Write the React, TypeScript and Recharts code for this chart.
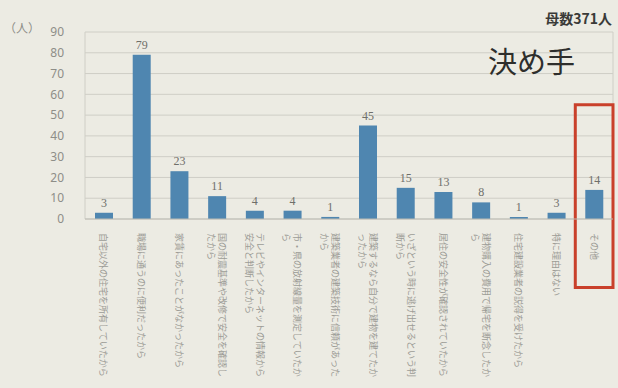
import React from "react";
import {
  BarChart,
  Bar,
  XAxis,
  YAxis,
  CartesianGrid,
  LabelList,
  ReferenceArea,
} from "recharts";

const categories = [
  "自宅以外の住宅を所有していたから",
  "職場に通うのに便利だったから",
  "家賃にあったことがなかったから",
  "国の耐震基準や改修で安全を確認したから",
  "テレビやインターネットの情報から安全と判断したから",
  "市・県の放射線量を測定していたから",
  "建築業者の建築技術に信頼があったから",
  "建築するなら自分で建物を建てたかったから",
  "いざという時に逃げ出せるという判断から",
  "居住の安全性が確認されていたから",
  "建物購入の費用で帰宅を断念したから",
  "住宅建設業者の説得を受けたから",
  "特に理由はない",
  "その他",
];

const counts = [3, 79, 23, 11, 4, 4, 1, 45, 15, 13, 8, 1, 3, 14];

const yTicks = [0, 10, 20, 30, 40, 50, 60, 70, 80, 90];

const unitLabel = "（人）";
const sampleLabel = "母数371人";
const titleLabel = "決め手";
const highlighted = "その他";

const data = categories.map((name, i) => ({ name, value: counts[i] }));

const wrap = (s: string, n: number) => {
  const out: string[] = [];
  for (let i = 0; i < s.length; i += n) out.push(s.slice(i, i + n));
  return out;
};

const CategoryTick = (props: any) => {
  const { x, y, payload } = props;
  const lines = wrap(String(payload.value), 16);
  const lh = 11;
  const first = 3.5 - ((lines.length - 1) * lh) / 2;
  return (
    <g transform={`translate(${x},${y})`}>
      <text
        transform="rotate(90)"
        fontSize={9}
        fill="#9c9c96"
        fontFamily="'Noto Sans CJK JP', sans-serif"
      >
        {lines.map((l, i) => (
          <tspan key={i} x={6} y={first + i * lh}>
            {l}
          </tspan>
        ))}
      </text>
    </g>
  );
};

export default function App() {
  return (
    <div
      style={{
        position: "absolute",
        left: 0,
        top: 0,
        width: 618,
        height: 388,
        background: "#ecebe3",
        overflow: "hidden",
      }}
    >
      <BarChart
        width={618}
        height={388}
        data={data}
        margin={{ top: 32, right: 5, left: 0, bottom: 0 }}
        barCategoryGap={0}
      >
        <CartesianGrid
          stroke="#cfcec6"
          verticalCoordinatesGenerator={({ offset }: any) => [
            offset.left,
            offset.left + offset.width,
          ]}
        />
        <XAxis
          dataKey="name"
          interval={0}
          height={169}
          tickLine={false}
          axisLine={{ stroke: "#bdbcb4" }}
          tick={<CategoryTick />}
        />
        <YAxis
          width={85}
          domain={[0, 90]}
          ticks={yTicks}
          interval={0}
          tickLine={false}
          axisLine={false}
          tickMargin={15}
          tick={{
            fontSize: 12,
            fill: "#8e8e88",
            fontFamily: "'Noto Sans', sans-serif",
          }}
        />
        <Bar
          dataKey="value"
          fill="#4f86b0"
          barSize={18}
          isAnimationActive={false}
        >
          <LabelList
            dataKey="value"
            position="top"
            offset={6}
            fill="#6f6f6a"
            fontSize={12}
            fontFamily="'Liberation Serif', serif"
          />
        </Bar>
        <ReferenceArea
          x1={highlighted}
          x2={highlighted}
          y1={-33}
          y2={55}
          ifOverflow="visible"
          fill="none"
          stroke="#c9402b"
          strokeWidth={3}
          fillOpacity={0}
        />
      </BarChart>
      <div
        style={{
          position: "absolute",
          left: 4,
          top: 19,
          fontSize: 12,
          color: "#8e8e88",
          fontFamily: "'Noto Sans CJK JP', sans-serif",
        }}
      >
        {unitLabel}
      </div>
      <div
        style={{
          position: "absolute",
          right: 6,
          top: 8,
          fontSize: 14,
          fontWeight: 700,
          color: "#3a3a38",
          fontFamily: "'Noto Sans CJK JP', sans-serif",
        }}
      >
        {sampleLabel}
      </div>
      <div
        style={{
          position: "absolute",
          left: 488,
          top: 40,
          fontSize: 29,
          color: "#2e2e2c",
          fontFamily: "'Noto Sans CJK JP', sans-serif",
          lineHeight: "40px",
        }}
      >
        {titleLabel}
      </div>
    </div>
  );
}
